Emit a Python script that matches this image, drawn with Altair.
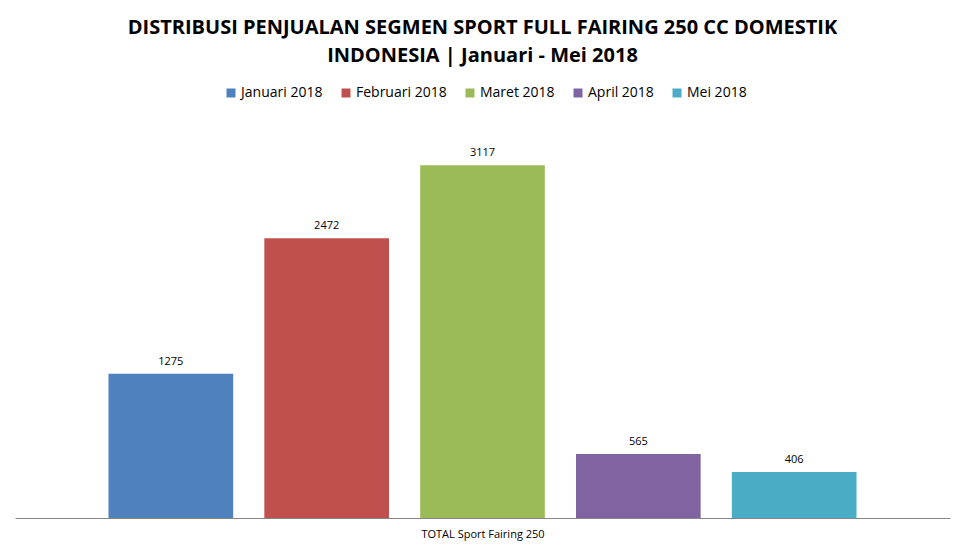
import altair as alt
import pandas as pd

months = ["Januari 2018", "Februari 2018", "Maret 2018", "April 2018", "Mei 2018"]
values = [1275, 2472, 3117, 565, 406]
colors = ["#4F81BD", "#C0504D", "#9BBB59", "#8064A2", "#4BACC6"]

df = pd.DataFrame({"month": months, "value": values})

FONT = "Open Sans, sans-serif"

x = alt.X("month:N", sort=months,
          scale=alt.Scale(paddingInner=0.2, paddingOuter=0.6),
          axis=alt.Axis(labels=False, ticks=False, domainColor="#868686",
                        title="TOTAL Sport Fairing 250", titleFont=FONT,
                        titleFontSize=11, titleFontWeight="normal",
                        titleColor="#000000", titlePadding=10))
y = alt.Y("value:Q", scale=alt.Scale(domain=[0, 3500]), axis=None)

bars = alt.Chart(df).mark_bar().encode(
    x=x, y=y,
    color=alt.Color("month:N", sort=months,
                    scale=alt.Scale(domain=months, range=colors),
                    legend=alt.Legend(title=None, orient="none", direction="horizontal",
                                      legendX=209, legendY=-36, columns=5,
                                      symbolType="square", symbolSize=81,
                                      symbolStrokeWidth=0, labelFont=FONT,
                                      labelFontSize=14, labelColor="#000000",
                                      columnPadding=16, labelOffset=3)),
)

labels = alt.Chart(df).mark_text(baseline="bottom", dy=-7, font=FONT, fontSize=11,
                                 color="#000000").encode(
    x=alt.X("month:N", sort=months), y="value:Q", text="value:Q")

chart = (bars + labels).properties(
    width=935, height=396,
    padding={"left": 7, "top": 114, "right": 10, "bottom": 26},
    autosize=alt.AutoSizeParams(type="none"),
    background="#ffffff",
    title=alt.Title(["DISTRIBUSI PENJUALAN SEGMEN SPORT FULL FAIRING 250 CC DOMESTIK",
                     "INDONESIA | Januari - Mei 2018"],
                    font=FONT, fontSize=20, fontWeight="bold", color="#000000",
                    anchor="middle", lineHeight=28, offset=20),
).configure_view(strokeWidth=0, stroke="transparent")

chart.save("out.html", embed_options={"renderer": "svg", "actions": False})
